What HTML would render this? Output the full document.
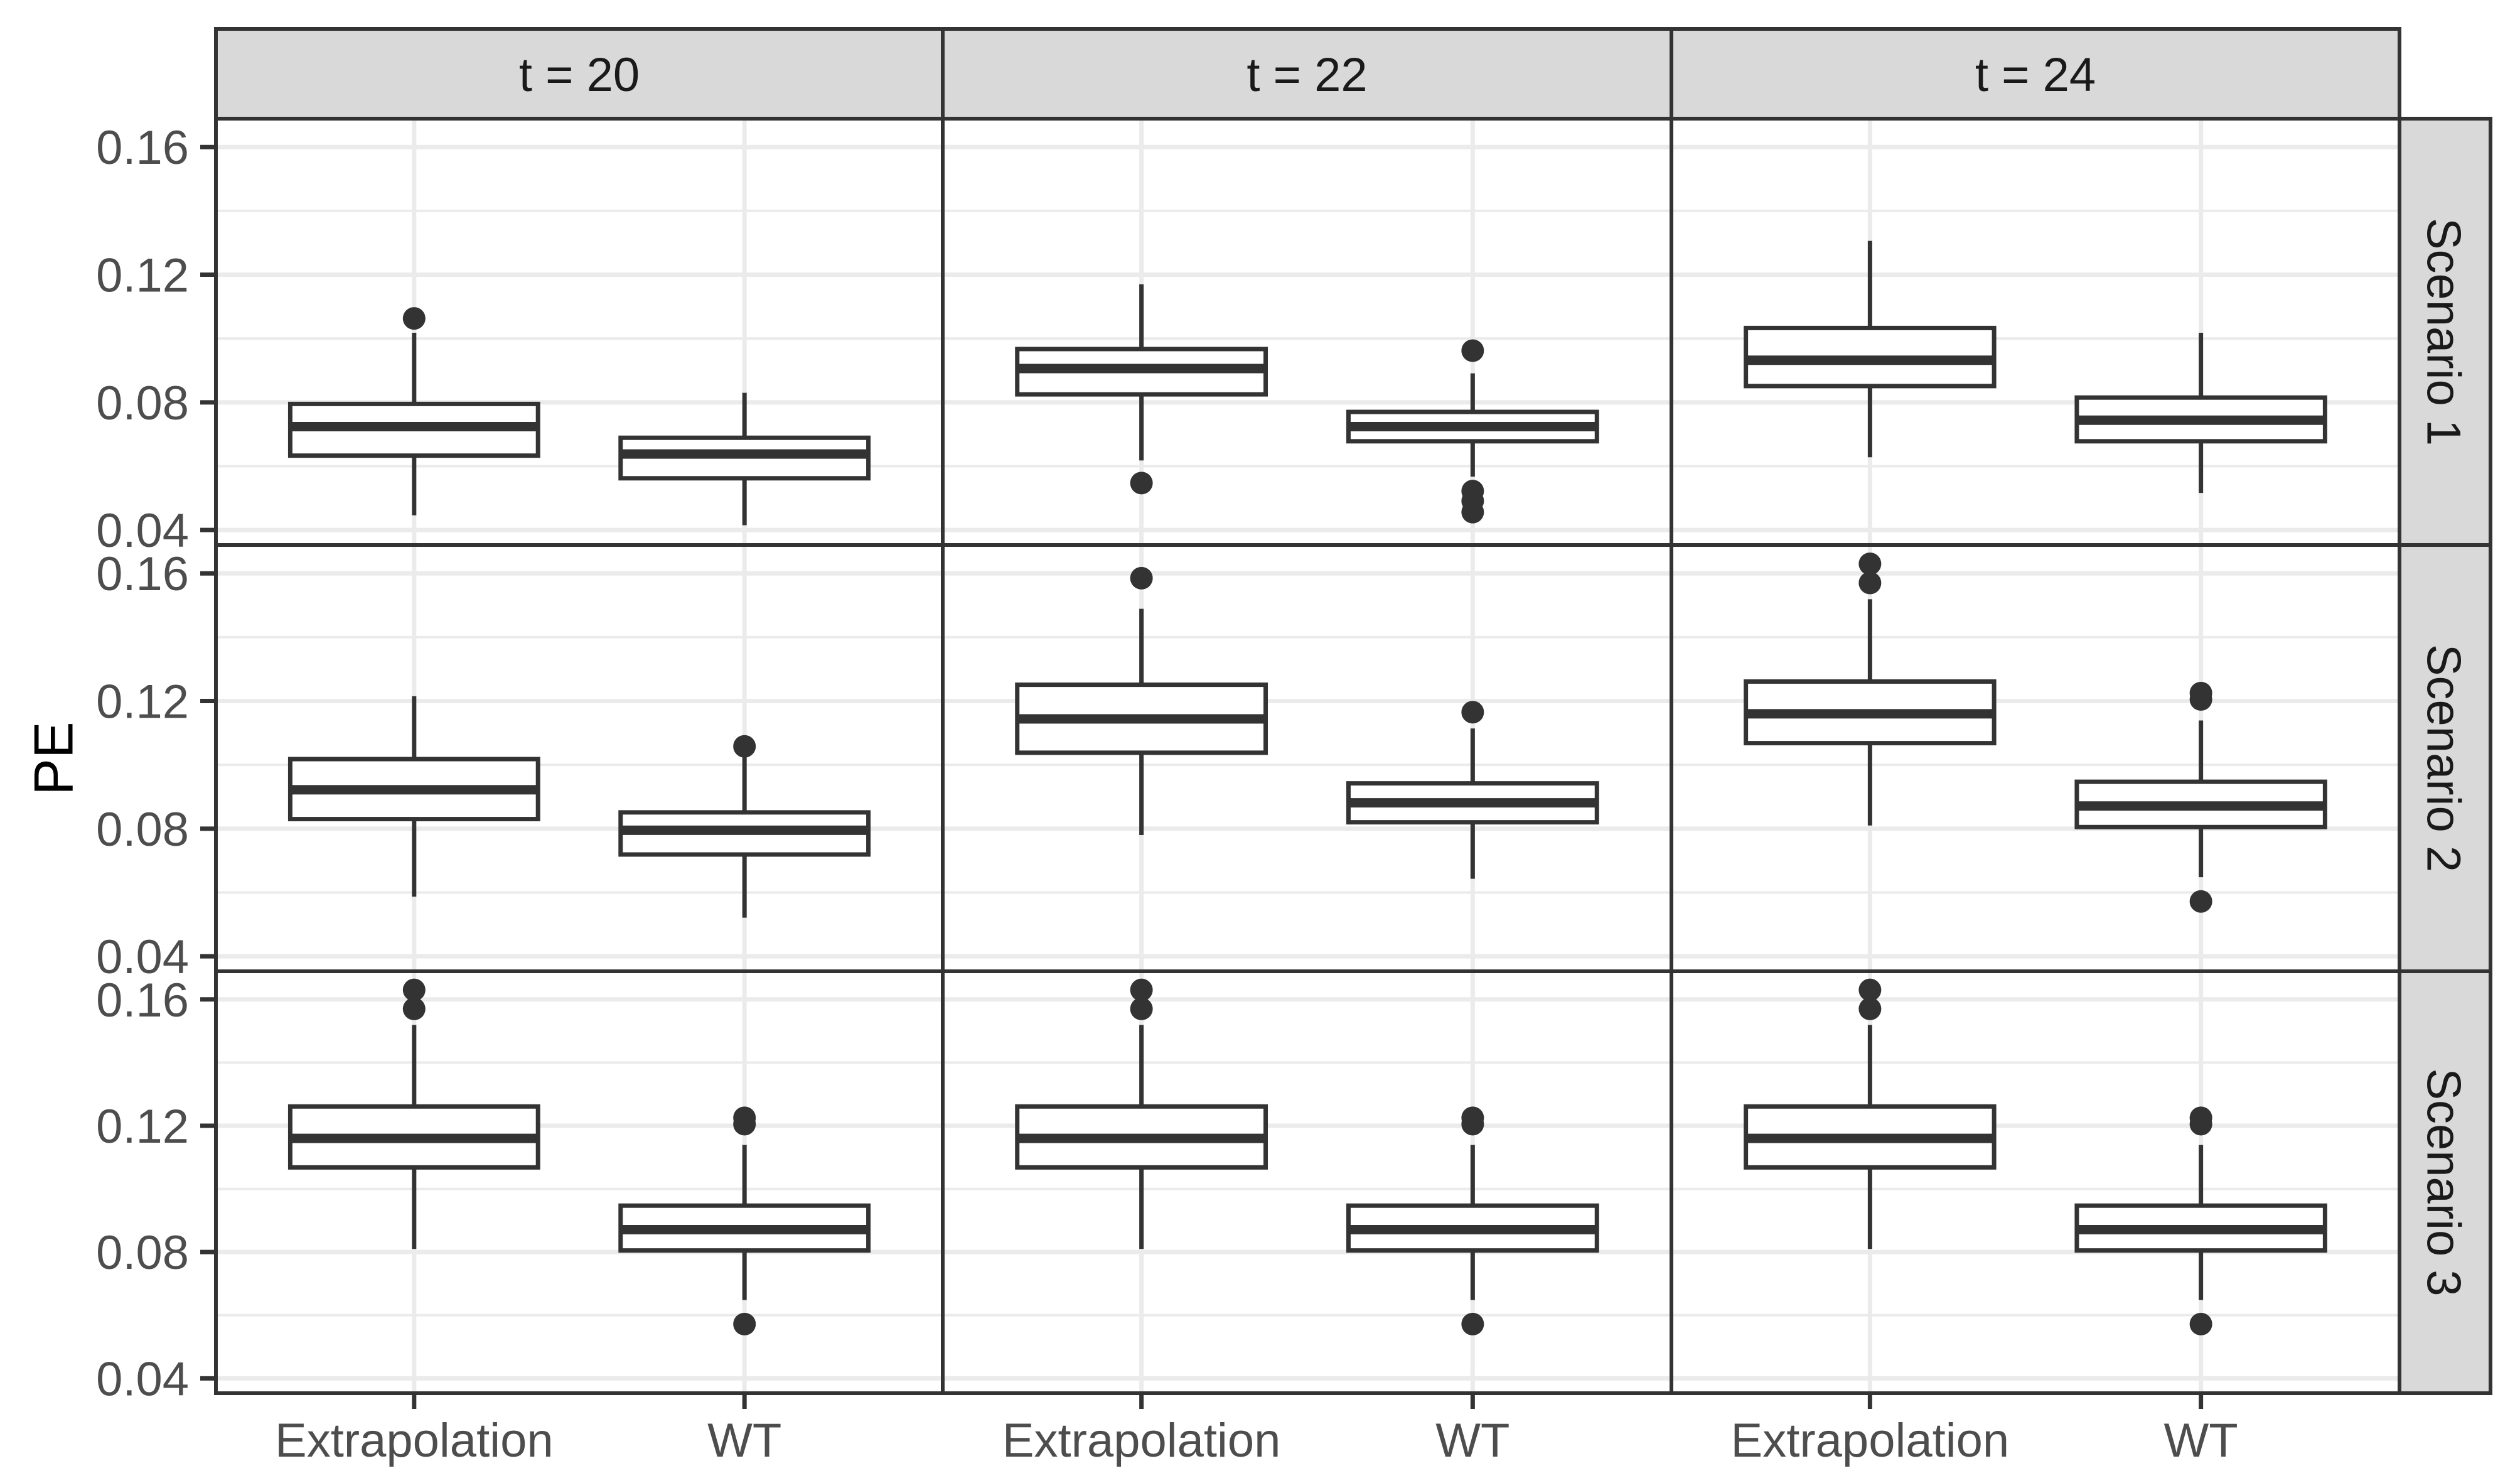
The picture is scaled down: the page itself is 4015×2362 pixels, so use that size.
<!DOCTYPE html>
<html><head><meta charset="utf-8"><style>
html,body{margin:0;padding:0;background:#fff}
svg{display:block}
text{font-family:"Liberation Sans",sans-serif}
</style></head><body>
<svg id="chart" width="4015" height="2362" viewBox="0 0 4015 2362" xmlns="http://www.w3.org/2000/svg">
<rect width="4015" height="2362" fill="#fff"/>
</svg>
<script>
const columnLabels = ["t = 20", "t = 22", "t = 24"];
const rowLabels = ["Scenario 1", "Scenario 2", "Scenario 3"];
const categories = ["Extrapolation", "WT"];
const yTicks = [0.04, 0.08, 0.12, 0.16];
const yTickLabels = ["0.04", "0.08", "0.12", "0.16"];
// per panel [row][col][category] = [lowerWhisker, q1, median, q3, upperWhisker]
const stats = [
 [[[0.0446,0.0633,0.0724,0.0795,0.1018],[0.0415,0.0562,0.0638,0.0689,0.083]],
  [[0.0618,0.0825,0.0906,0.0967,0.117],[0.0567,0.0678,0.0724,0.077,0.0891]],
  [[0.0628,0.0851,0.0932,0.1033,0.1306],[0.0516,0.0678,0.0744,0.0815,0.1018]]],
 [[[0.0587,0.083,0.0922,0.1018,0.1215],[0.0521,0.0719,0.0795,0.0851,0.1023]],
  [[0.078,0.1038,0.1144,0.1251,0.1489],[0.0643,0.082,0.0881,0.0942,0.1114]],
  [[0.081,0.1068,0.116,0.1261,0.1519],[0.0648,0.0805,0.0871,0.0947,0.1139]]],
 [[[0.081,0.1068,0.116,0.1261,0.1519],[0.0648,0.0805,0.0871,0.0947,0.1139]],
  [[0.081,0.1068,0.116,0.1261,0.1519],[0.0648,0.0805,0.0871,0.0947,0.1139]],
  [[0.081,0.1068,0.116,0.1261,0.1519],[0.0648,0.0805,0.0871,0.0947,0.1139]]]
];
const outliers = [
 [[[0.1063],[]],[[0.0547],[0.0962,0.0522,0.0491,0.0456]],[[],[]]],
 [[[],[0.1058]],[[0.1585],[0.1165]],[[0.163,0.157],[0.1225,0.1205,0.0572]]],
 [[[0.163,0.157],[0.1225,0.1205,0.0572]],[[0.163,0.157],[0.1225,0.1205,0.0572]],[[0.163,0.157],[0.1225,0.1205,0.0572]]]
];

const NS = "http://www.w3.org/2000/svg";
const svg = document.getElementById("chart");
function mk(tag, attrs, parent){const e=document.createElementNS(NS,tag);for(const k in attrs)e.setAttribute(k,attrs[k]);(parent||svg).appendChild(e);return e;}

const colX = [344, 1502, 2663, 3823];
const rowY = [189, 868, 1547, 2219];
const yMin = 0.0353, yMax = 0.1689;
const xLo = 0.4, xHi = 2.6;
function yScale(r, v){const t=rowY[r], b=rowY[r+1]; return b - (v - yMin)/(yMax - yMin)*(b - t);}
function xScale(c, i){const l=colX[c], rt=colX[c+1]; return l + ((i+1) - xLo)/(xHi - xLo)*(rt - l);}
function xWidth(c, w){return w/(xHi - xLo)*(colX[c+1]-colX[c]);}

for(let r=0;r<3;r++){
 for(let c=0;c<3;c++){
  const g = mk("g",{});
  
  
  const l=colX[c], rt=colX[c+1];
  for(let k=0;k<yTicks.length+1;k++){
   const v = yTicks[0]-0.02 + 0.04*k;
   if(v<yMin||v>yMax) continue;
   const y=yScale(r,v);
   const ln=mk("line",{x1:l,x2:rt,y1:y,y2:y,stroke:"#ebebeb","stroke-width":4},g);
   
   
  }
  yTicks.forEach(v=>{
   const y=yScale(r,v);
   const ln=mk("line",{x1:l,x2:rt,y1:y,y2:y,stroke:"#ebebeb","stroke-width":7},g);
   
   
  });
  categories.forEach((cat,i)=>{
   const x=xScale(c,i);
   const ln=mk("line",{x1:x,x2:x,y1:rowY[r],y2:rowY[r+1],stroke:"#ebebeb","stroke-width":7},g);
   
   
  });
  categories.forEach((cat,i)=>{
   const s=stats[r][c][i];
   const x=xScale(c,i), hw=xWidth(c,0.75)/2;
   const bg=mk("g",{},g);
   
   
   mk("line",{x1:x,x2:x,y1:yScale(r,s[4]),y2:yScale(r,s[3]),stroke:"#333","stroke-width":7},bg);
   mk("line",{x1:x,x2:x,y1:yScale(r,s[1]),y2:yScale(r,s[0]),stroke:"#333","stroke-width":7},bg);
   mk("rect",{x:x-hw,y:yScale(r,s[3]),width:2*hw,height:yScale(r,s[1])-yScale(r,s[3]),fill:"#fff",stroke:"#333","stroke-width":7},bg);
   mk("line",{x1:x-hw,x2:x+hw,y1:yScale(r,s[2]),y2:yScale(r,s[2]),stroke:"#333","stroke-width":15},bg);
   outliers[r][c][i].forEach(v=>{
    const p=mk("circle",{cx:x,cy:yScale(r,v),r:18,fill:"#333"},bg);
    
    
   });
  });
  const b=mk("rect",{x:l,y:rowY[r],width:rt-l,height:rowY[r+1]-rowY[r],fill:"none",stroke:"#333","stroke-width":6},g);
  
  
 }
 yTicks.forEach((v,k)=>{
  const y=yScale(r,v);
  const t=mk("line",{x1:319,x2:344,y1:y,y2:y,stroke:"#333","stroke-width":7});
  
  
  const tx=mk("text",{x:301,y:y+27,"text-anchor":"end","font-size":76,fill:"#4d4d4d"});
  tx.textContent=yTickLabels[k];
  
  
 });
 const sg=mk("g",{});
 
 
 mk("rect",{x:3823,y:rowY[r],width:145,height:rowY[r+1]-rowY[r],fill:"#d9d9d9",stroke:"#333","stroke-width":6},sg);
 const cy=(rowY[r]+rowY[r+1])/2;
 const st=mk("text",{x:3893,y:cy,"text-anchor":"middle","dominant-baseline":"central","font-size":76,fill:"#1a1a1a",transform:"rotate(90 3893 "+cy+")"},sg);
 st.textContent=rowLabels[r];
}
for(let c=0;c<3;c++){
 const sg=mk("g",{});
 
 
 mk("rect",{x:colX[c],y:46,width:colX[c+1]-colX[c],height:143,fill:"#d9d9d9",stroke:"#333","stroke-width":6},sg);
 const t=mk("text",{x:(colX[c]+colX[c+1])/2,y:145,"text-anchor":"middle","font-size":76,fill:"#1a1a1a"},sg);
 t.textContent=columnLabels[c];
 categories.forEach((cat,i)=>{
  const x=xScale(c,i);
  const tk=mk("line",{x1:x,x2:x,y1:2219,y2:2244,stroke:"#333","stroke-width":7});
  
  
  const lb=mk("text",{x:x,y:2320,"text-anchor":"middle","font-size":76,fill:"#4d4d4d"});
  lb.textContent=cat;
  
  
 });
}
const yt=mk("text",{x:85,y:1208,"text-anchor":"middle","dominant-baseline":"central","font-size":88,fill:"#000",transform:"rotate(-90 85 1208)"});
yt.textContent="PE";


</script>
</body></html>
